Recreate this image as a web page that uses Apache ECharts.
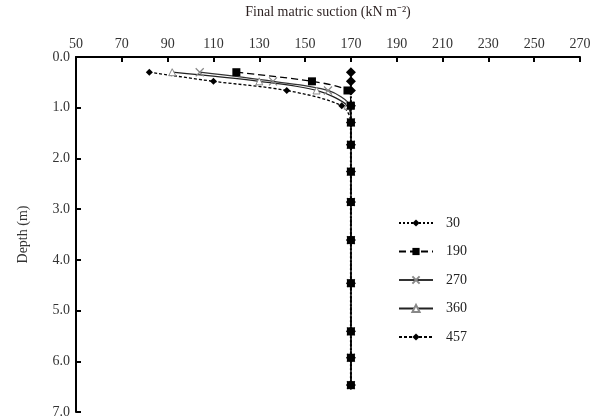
<!DOCTYPE html>
<html>
<head>
<meta charset="utf-8">
<title>Final matric suction</title>
<script src="https://cdn.jsdelivr.net/npm/echarts@6/dist/echarts.min.js"></script>
<style>
  html, body { margin: 0; padding: 0; background: #fff; }
  #chart { width: 595px; height: 419px; }
</style>
</head>
<body>
<div id="chart"></div>
<script>
// depths (m) of the measurement points
var depths = [0.3, 0.48, 0.66, 0.96, 1.29, 1.73, 2.26, 2.86, 3.61, 4.46, 5.41, 5.93, 6.47];

// final matric suction (kN/m2) per elapsed time
var s30  = [170, 170, 170, 170, 170, 170, 170, 170, 170, 170, 170, 170, 170];
var s190 = [120, 153, 168.5, 170, 170, 170, 170, 170, 170, 170, 170, 170, 170];
var s270 = [104, 136, 160, 169.5, 170, 170, 170, 170, 170, 170, 170, 170, 170];
var s360 = [92, 130, 155, 168.5, 170, 170, 170, 170, 170, 170, 170, 170, 170];
var s457 = [82, 110, 142, 166, 170, 170, 170, 170, 170, 170, 170, 170, 170];

var legendNames = ['30', '190', '270', '360', '457'];
var xTicks = [50, 270, 20];
var yTicks = [0, 7, 1];

function pairs(vals) {
  var out = [];
  for (var i = 0; i < vals.length; i++) {
    out.push([vals[i], depths[i]]);
  }
  return out;
}

var font = 'Liberation Serif';
var chart = echarts.init(document.getElementById('chart'));

var option = {
  backgroundColor: '#fff',
  animation: false,
  grid: { left: 76, right: 15, top: 54, bottom: 6 },
  legend: {
    orient: 'vertical',
    left: 393,
    top: 211,
    itemWidth: 34,
    itemHeight: 9,
    itemGap: 14.5,
    textStyle: { fontFamily: font, fontSize: 14, color: '#222', padding: [0, 0, 0, 8] },
    data: legendNames
  },
  xAxis: {
    type: 'value',
    position: 'top',
    min: xTicks[0],
    max: xTicks[1],
    interval: xTicks[2],
    name: 'Final matric suction (kN m\u207B\u00B2)',
    nameLocation: 'middle',
    nameGap: 38,
    nameTextStyle: { fontFamily: font, fontSize: 14, color: '#2a1f1f' },
    axisLine: { lineStyle: { color: '#000', width: 2 } },
    axisTick: { inside: true, length: 5, lineStyle: { color: '#000', width: 2 } },
    axisLabel: { fontFamily: font, fontSize: 14, color: '#333', margin: 6 },
    splitLine: { show: false }
  },
  yAxis: {
    type: 'value',
    inverse: true,
    min: yTicks[0],
    max: yTicks[1],
    interval: yTicks[2],
    name: 'Depth (m)',
    nameLocation: 'middle',
    nameGap: 46,
    nameTextStyle: { fontFamily: font, fontSize: 14, color: '#333' },
    axisLine: { lineStyle: { color: '#000', width: 2 } },
    axisTick: { inside: true, length: 5, lineStyle: { color: '#000', width: 2 } },
    axisLabel: {
      fontFamily: font, fontSize: 14, color: '#333', margin: 6,
      formatter: function (v) { return v.toFixed(1); }
    },
    splitLine: { show: false }
  },
  series: [
    {
      name: '457', type: 'line', data: pairs(s457), z: 2,
      smooth: 0.3,
      symbol: 'diamond', symbolSize: 7,
      lineStyle: { color: '#000', width: 1.3, type: [3, 2] },
      itemStyle: { color: '#000' }
    },
    {
      name: '360', type: 'line', data: pairs(s360), z: 3,
      smooth: 0.3,
      symbol: 'triangle', symbolSize: 7,
      lineStyle: { color: '#222', width: 1.3 },
      itemStyle: { color: '#fff', borderColor: '#888', borderWidth: 1 }
    },
    {
      name: '270', type: 'line', data: pairs(s270), z: 3,
      smooth: 0.3,
      symbol: 'path://M0,0L10,10M10,0L0,10', symbolSize: 8,
      lineStyle: { color: '#333', width: 1.3 },
      itemStyle: { color: 'none', borderColor: '#888', borderWidth: 1.2 }
    },
    {
      name: '190', type: 'line', data: pairs(s190), z: 4,
      smooth: 0.3,
      symbol: 'rect', symbolSize: 8,
      lineStyle: { color: '#000', width: 1.3, type: [7, 4] },
      itemStyle: { color: '#000' }
    },
    {
      name: '30', type: 'line', data: pairs(s30), z: 5,
      symbol: 'diamond', symbolSize: 10,
      lineStyle: { color: '#000', width: 2, type: [2, 2] },
      itemStyle: { color: '#000' }
    }
  ]
};

chart.setOption(option);
</script>
</body>
</html>
